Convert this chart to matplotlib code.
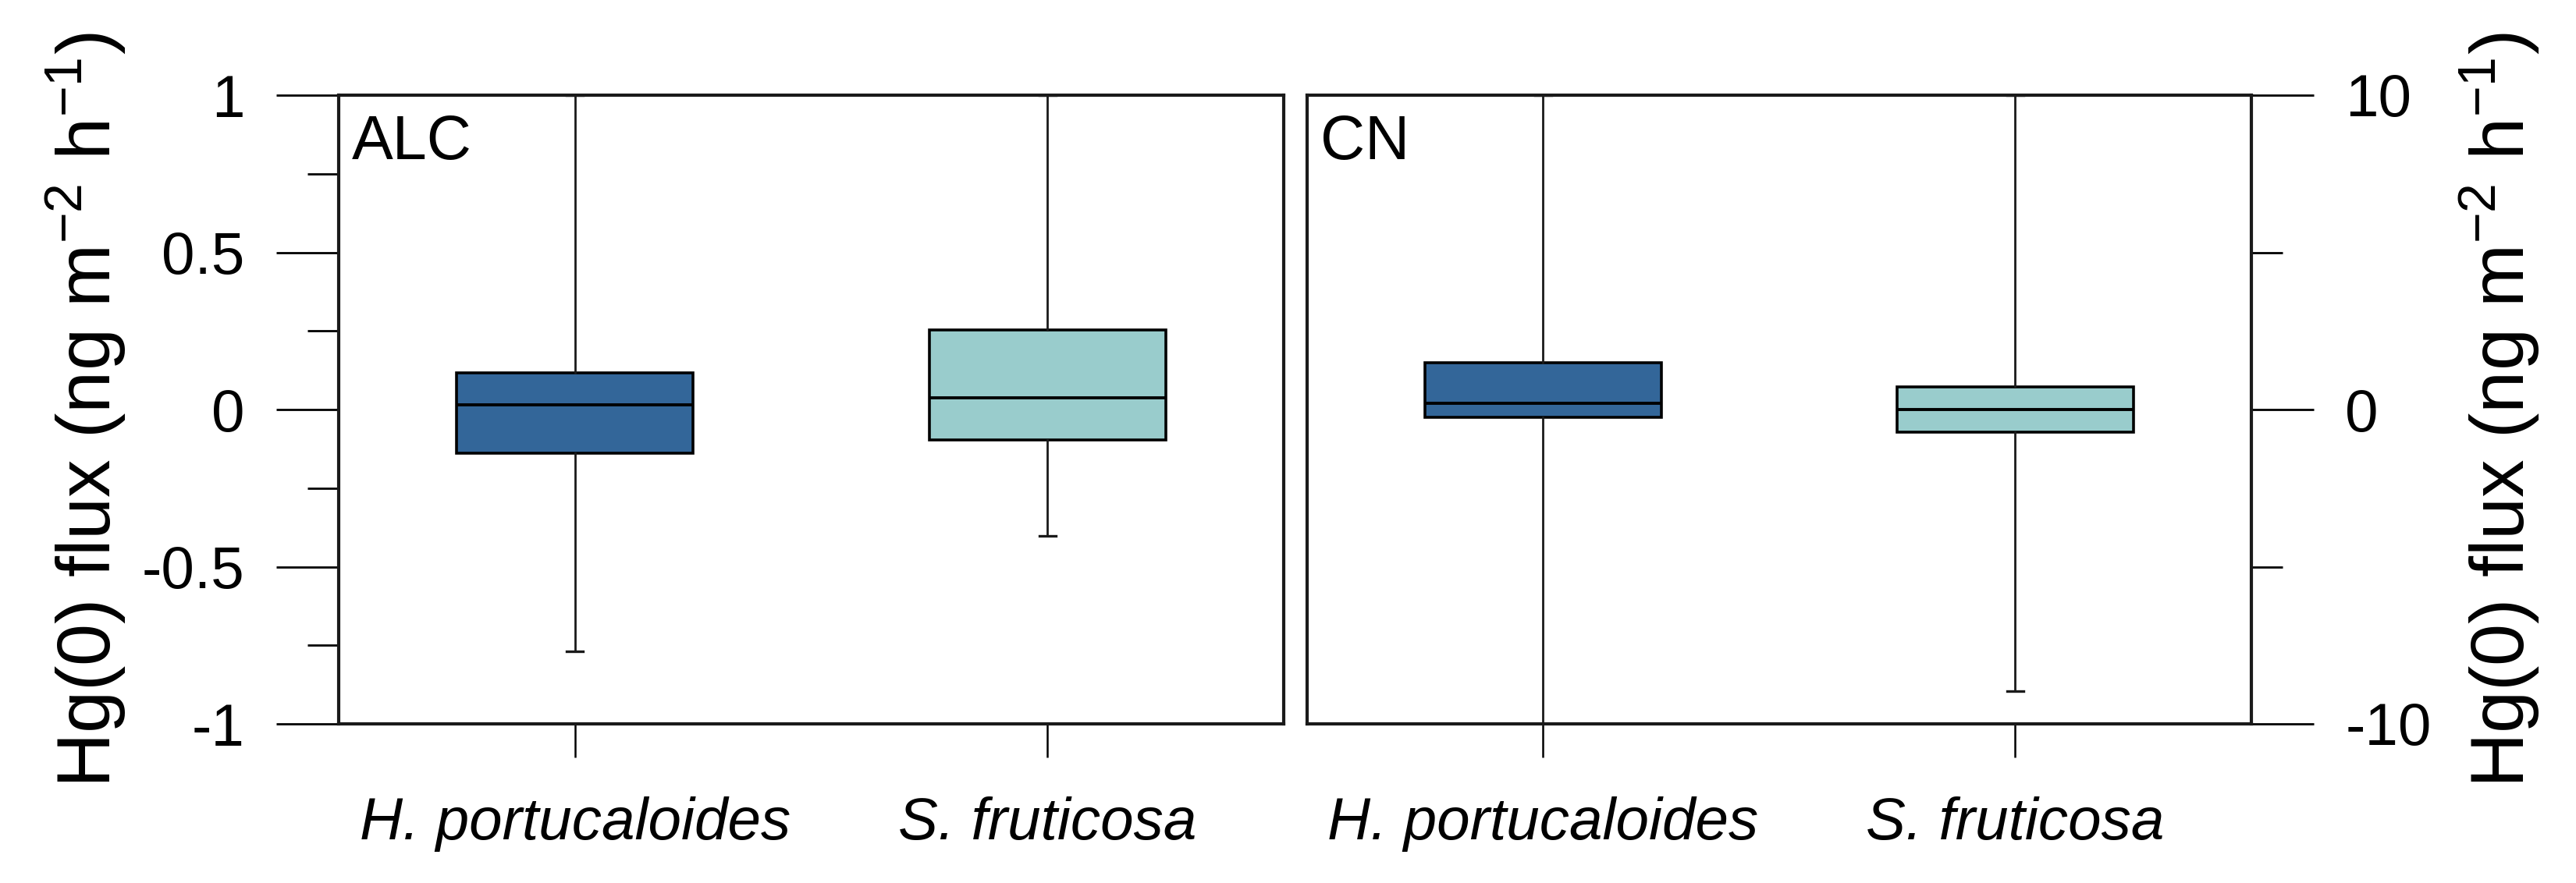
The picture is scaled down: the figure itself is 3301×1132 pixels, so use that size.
import matplotlib
matplotlib.use("Agg")
import matplotlib.pyplot as plt

plt.rcParams['font.family'] = ['Liberation Sans', 'DejaVu Sans']
plt.rcParams['mathtext.fontset'] = 'custom'
plt.rcParams['mathtext.rm'] = 'Liberation Sans'
plt.rcParams['mathtext.it'] = 'Liberation Sans:italic'
plt.rcParams['mathtext.default'] = 'regular'

# ---------------- data ----------------
species = ["H. portucaloides", "S. fruticosa"]
sites = ["ALC", "CN"]
box_colors = ["#336699", "#99CCCC"]

alc_q1 = [-0.139, -0.097]
alc_med = [0.014, 0.038]
alc_q3 = [0.117, 0.253]
alc_whislo = [-0.768, -0.403]
alc_whishi = [1.0, 1.0]

cn_q1 = [-0.26, -0.73]
cn_med = [0.20, 0.01]
cn_q3 = [1.48, 0.73]
cn_whislo = [-10.0, -8.95]
cn_whishi = [10.0, 10.0]

alc_yticks = [-1, -0.5, 0, 0.5, 1]
alc_yticklabels = ["-1", "-0.5", "0", "0.5", "1"]
alc_yminor = [-0.75, -0.25, 0.25, 0.75]
cn_yticks = [-10, 0, 10]
cn_yticklabels = ["-10", "0", "10"]
cn_yminor = [-5, 5]

ylabel = "Hg(0) flux (ng m$^{-2}$ h$^{-1}$)"

# ---------------- figure ----------------
W, H = 3301, 1132
fig = plt.figure(figsize=(W / 100, H / 100), dpi=100)
ax1 = fig.add_axes([434 / W, 1 - 928 / H, (1645 - 434) / W, (928 - 122) / H])
ax2 = fig.add_axes([1675 / W, 1 - 928 / H, (2885 - 1675) / W, (928 - 122) / H])

FS = 55
positions = [1, 2]


def make_stats(q1, med, q3, lo, hi):
    return [dict(q1=q1[i], med=med[i], q3=q3[i], whislo=lo[i], whishi=hi[i],
                 fliers=[], label=species[i]) for i in range(len(species))]


def draw(ax, stats):
    bp = ax.bxp(stats, positions=positions, widths=0.5, capwidths=0.034,
                patch_artist=True, showfliers=False,
                boxprops=dict(linewidth=2.6, edgecolor='black'),
                medianprops=dict(color='black', linewidth=2.8),
                whiskerprops=dict(color='#1a1a1a', linewidth=2.0, linestyle='-'),
                capprops=dict(color='#1a1a1a', linewidth=2.4))
    for patch, c in zip(bp['boxes'], box_colors):
        patch.set_facecolor(c)
    ax.set_xlim(0.5, 2.5)
    ax.set_xticks(positions)
    ax.set_xticklabels(species, fontstyle='italic', fontsize=FS)
    ax.tick_params(axis='x', length=31, width=1.8, pad=36, direction='out')
    for s in ax.spines.values():
        s.set_linewidth(3.0)
        s.set_color('#1a1a1a')


draw(ax1, make_stats(alc_q1, alc_med, alc_q3, alc_whislo, alc_whishi))
draw(ax2, make_stats(cn_q1, cn_med, cn_q3, cn_whislo, cn_whishi))

ax1.set_ylim(-1, 1)
ax1.set_yticks(alc_yticks)
ax1.set_yticklabels(alc_yticklabels, fontsize=FS)
ax1.set_yticks(alc_yminor, minor=True)
ax1.tick_params(axis='y', which='major', length=57.6, width=2.0, pad=29)
ax1.tick_params(axis='y', which='minor', length=28.8, width=2.0)

ax2.set_ylim(-10, 10)
ax2.yaxis.tick_right()
ax2.set_yticks(cn_yticks)
ax2.set_yticklabels(cn_yticklabels, fontsize=FS)
ax2.set_yticks(cn_yminor, minor=True)
ax2.tick_params(axis='y', which='major', length=57.6, width=2.0, pad=29)
ax2.tick_params(axis='y', which='minor', length=28.8, width=2.0)

for ax, site in zip([ax1, ax2], sites):
    ax.text(0.014, 0.97, site, transform=ax.transAxes, ha='left', va='top',
            fontsize=57)

fig.text(110 / W, 1 - 526 / H, ylabel, rotation=90, ha='center', va='center',
         fontsize=70)
fig.text(3203 / W, 1 - 526 / H, ylabel, rotation=90, ha='center', va='center',
         fontsize=70)

fig.savefig("out.png", dpi=100, facecolor='white')
